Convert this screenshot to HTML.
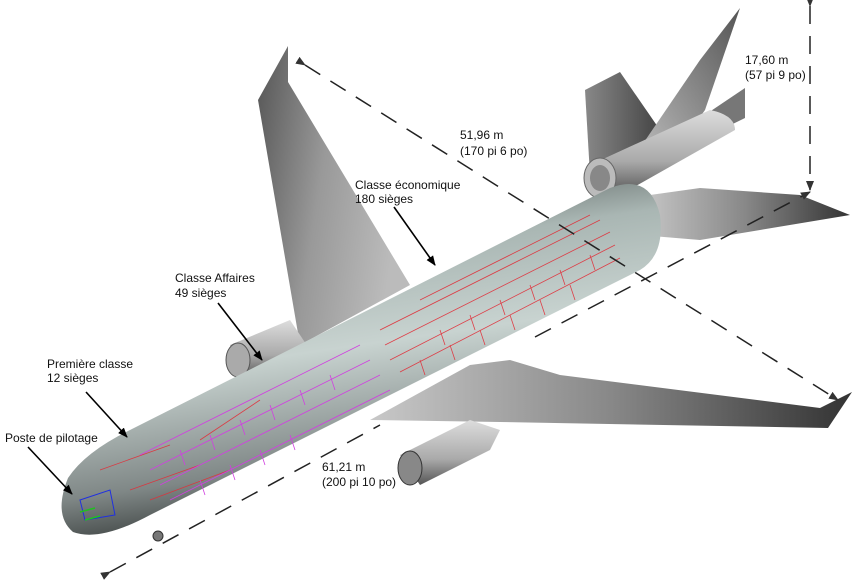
<!DOCTYPE html>
<html><head><meta charset="utf-8"><style>
html,body{margin:0;padding:0;background:#fff;}
svg{display:block}
text{font-family:"Liberation Sans",Arial,sans-serif;font-size:12px;fill:#111}
</style></head><body>
<svg width="864" height="583" viewBox="0 0 864 583" xmlns="http://www.w3.org/2000/svg">
<defs>
<linearGradient id="wing1" x1="0" y1="0" x2="1" y2="0.3"><stop offset="0" stop-color="#555"/><stop offset="0.5" stop-color="#999"/><stop offset="1" stop-color="#bbb"/></linearGradient>
<linearGradient id="wing2" x1="0" y1="0" x2="1" y2="0"><stop offset="0" stop-color="#c8c8c8"/><stop offset="0.5" stop-color="#888"/><stop offset="1" stop-color="#333"/></linearGradient>
<linearGradient id="fus" x1="0" y1="0" x2="0.25" y2="1"><stop offset="0" stop-color="#2e3332"/><stop offset="0.3" stop-color="#a9b6b3"/><stop offset="0.55" stop-color="#c8d3d0"/><stop offset="0.85" stop-color="#7f8786"/><stop offset="1" stop-color="#3a3f3e"/></linearGradient>
<linearGradient id="eng" x1="0" y1="0" x2="0" y2="1"><stop offset="0" stop-color="#ddd"/><stop offset="0.6" stop-color="#aaa"/><stop offset="1" stop-color="#555"/></linearGradient>
<linearGradient id="fin" x1="0" y1="0" x2="1" y2="0"><stop offset="0" stop-color="#888"/><stop offset="1" stop-color="#444"/></linearGradient>
<linearGradient id="vfin" x1="0" y1="1" x2="1" y2="0"><stop offset="0" stop-color="#bbb"/><stop offset="1" stop-color="#555"/></linearGradient>
<marker id="ah" markerWidth="10" markerHeight="8" refX="9" refY="4" orient="auto" markerUnits="userSpaceOnUse"><path d="M0,0 L10,4 L0,8 Z" fill="#333"/></marker>
<marker id="ahk" markerWidth="10" markerHeight="8" refX="9" refY="4" orient="auto" markerUnits="userSpaceOnUse"><path d="M0,0 L10,4 L0,8 Z" fill="#000"/></marker>
</defs>

<polygon points="585,90 620,72 660,130 630,170 590,175" fill="url(#fin)"/>
<polygon points="640,148 700,60 740,8 705,110 670,160" fill="url(#vfin)"/>
<polygon points="690,125 745,88 745,118 700,140" fill="#777"/>
<path d="M590,165 L710,110 Q735,115 735,130 L620,195 Z" fill="url(#eng)"/>
<ellipse cx="600" cy="178" rx="16" ry="20" fill="#bbb" stroke="#666"/>
<ellipse cx="600" cy="178" rx="10" ry="13" fill="#888"/>
<polygon points="258,100 288,46 288,82 410,285 300,345" fill="url(#wing1)"/>
<path d="M230,345 L290,320 L310,350 L245,378 Z" fill="url(#eng)"/>
<ellipse cx="238" cy="360" rx="12" ry="17" fill="#aaa" stroke="#555"/>
<polygon points="650,195 700,188 800,195 850,215 700,240 640,235" fill="url(#wing2)"/>
<path d="M68,478 Q85,452 130,430 L610,188 Q650,173 660,215 Q665,255 640,270 L150,515 Q100,542 73,532 Q53,515 68,478 Z" fill="url(#fus)"/>
<g stroke="#e0303a" stroke-width="0.8" fill="none" opacity="0.9">
<path d="M380,330 L600,220 M385,345 L610,232 M390,360 L615,245 M400,372 L620,258 M420,300 L590,215"/>
<path d="M440,330 L445,345 M470,315 L475,330 M500,300 L505,315 M530,285 L535,300 M560,270 L565,285 M590,255 L595,270 M420,360 L425,375 M450,345 L455,360 M480,330 L485,345 M510,315 L515,330 M540,300 L545,315 M570,285 L575,300"/>
<path d="M100,470 L170,445 M130,490 L200,465 M200,440 L260,400 M150,500 L230,470"/>
</g>
<g stroke="#d040e0" stroke-width="0.8" fill="none">
<path d="M150,470 L370,360 M160,485 L380,375 M170,500 L390,390 M140,455 L360,345"/>
<path d="M180,450 L185,465 M210,435 L215,450 M240,420 L245,435 M270,405 L275,420 M300,390 L305,405 M330,375 L335,390 M200,480 L205,495 M230,465 L235,480 M260,450 L265,465 M290,435 L295,450"/>
</g>
<g stroke="#2030e0" stroke-width="1" fill="none"><path d="M80,500 L110,490 L115,515 L85,520 Z"/></g>
<g stroke="#20c020" stroke-width="1.5" fill="none"><path d="M80,512 L95,508 M85,520 L100,516"/></g>
<polygon points="370,420 470,365 510,360 560,375 820,408 852,392 828,428 500,422" fill="url(#wing2)"/>
<path d="M400,455 L470,420 L500,430 L490,450 L420,485 Z" fill="url(#eng)"/>
<ellipse cx="410" cy="468" rx="12" ry="17" fill="#888" stroke="#333"/>
<circle cx="158" cy="536" r="5" fill="#777" stroke="#333"/>

<g stroke="#222" stroke-width="1.5" stroke-dasharray="18,12" fill="none">
<line x1="305" y1="65" x2="838" y2="400" marker-start="url(#ah)" marker-end="url(#ah)"/>
<line x1="110" y1="572" x2="380" y2="425" marker-start="url(#ah)"/>
<line x1="535" y1="337" x2="810" y2="192" marker-end="url(#ah)"/>
<line x1="810" y1="6" x2="810" y2="190" marker-start="url(#ah)" marker-end="url(#ah)"/>
</g>
<g stroke="#000" stroke-width="1.6">
<line x1="394" y1="207" x2="435" y2="265" marker-end="url(#ahk)"/>
<line x1="218" y1="303" x2="262" y2="360" marker-end="url(#ahk)"/>
<line x1="86" y1="392" x2="127" y2="437" marker-end="url(#ahk)"/>
<line x1="28" y1="447" x2="72" y2="494" marker-end="url(#ahk)"/>
</g>
<text x="745" y="64">17,60 m</text><text x="745" y="79">(57 pi 9 po)</text>
<text x="460" y="139">51,96 m</text><text x="460" y="155">(170 pi 6 po)</text>
<text x="355" y="189">Classe économique</text><text x="355" y="203">180 sièges</text>
<text x="175" y="282">Classe Affaires</text><text x="175" y="297">49 sièges</text>
<text x="47" y="368">Première classe</text><text x="47" y="382">12 sièges</text>
<text x="5" y="442">Poste de pilotage</text>
<text x="322" y="471">61,21 m</text><text x="322" y="486">(200 pi 10 po)</text>
</svg>
</body></html>
